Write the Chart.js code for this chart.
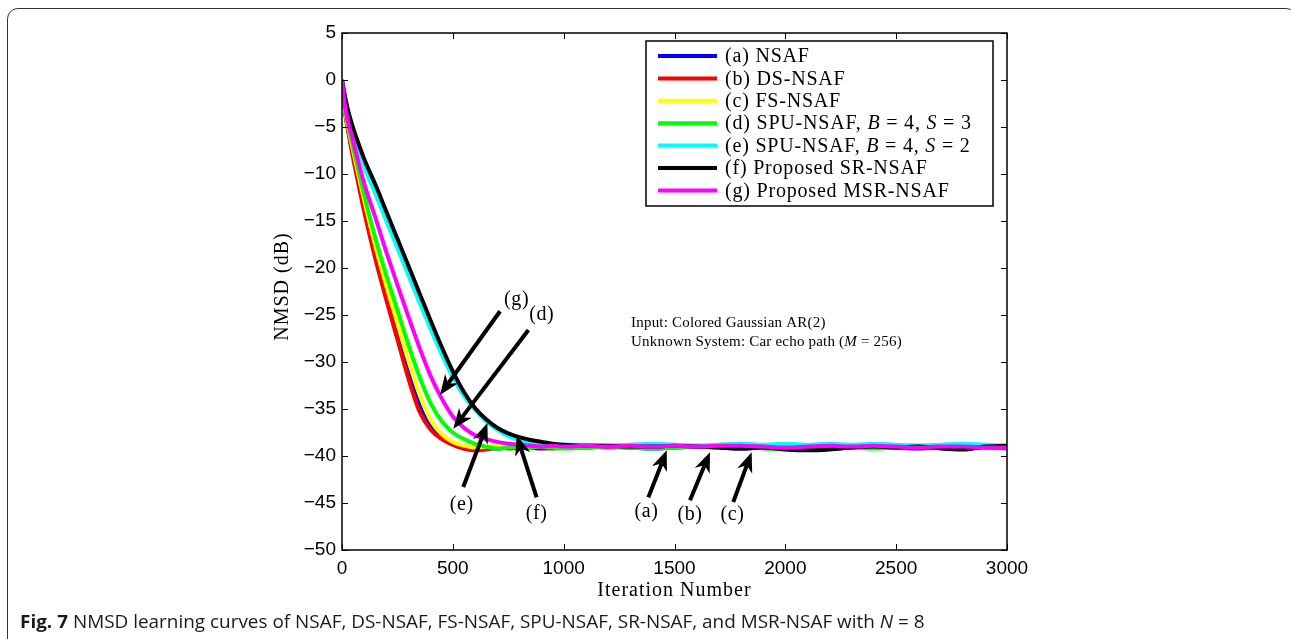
<!DOCTYPE html>
<html>
<head>
<meta charset="utf-8">
<script src="https://cdn.jsdelivr.net/npm/chart.js@4.4.1/dist/chart.umd.min.js"></script>
<style>
  html, body { margin: 0; padding: 0; background: #fff; width: 1291px; height: 639px; overflow: hidden; }
  #frame { position: absolute; left: 7px; top: 8px; width: 1290px; height: 700px; border: 1.5px solid #333; border-radius: 11px; box-sizing: border-box; }
  #wrap { position: absolute; left: 0; top: 0; width: 1291px; height: 639px; }
  #caption { position: absolute; left: 20px; top: 609px; font-family: "Open Sans", sans-serif; font-size: 18px; white-space: nowrap; transform-origin: left center; color: #1a1a1a; }
</style>
</head>
<body>
<div id="frame"></div>
<div id="wrap"><canvas id="chart" width="1291" height="639"></canvas></div>
<div id="caption"><b>Fig. 7</b> NMSD learning curves of NSAF, DS-NSAF, FS-NSAF, SPU-NSAF, SR-NSAF, and MSR-NSAF with <i>N</i> = 8</div>
<script>
// iteration index of each sample
const iterations = [0, 10, 25, 50, 75, 100, 150, 200, 250, 300, 350, 400, 450, 500, 550, 600, 650, 700, 750, 800, 850, 900, 950, 1000,
  1100, 1200, 1300, 1400, 1500, 1600, 1700, 1800, 1900, 2000, 2100, 2200, 2300, 2400, 2500, 2600, 2700, 2800, 2900, 3000];

// NMSD (dB)
const nsaf = [0, -2.6, -4.9, -7.9, -10.7, -13.4, -18.4, -22.7, -26.8, -31.0, -34.6, -36.9, -38.1, -38.8, -39.2, -39.3, -39.2, -39.2, -39.1, -39.0, -39.1, -39.2, -39.1, -39.0,
  -39.1, -39.0, -39.1, -39.2, -39.1, -39.0, -39.1, -39.2, -39.1, -39.0, -39.1, -39.2, -39.1, -39.0, -39.1, -39.2, -39.1, -39.2, -39.1, -39.2];
const dsNsaf = [0, -2.8, -5.1, -8.3, -11.2, -14.0, -19.0, -23.4, -27.6, -31.8, -35.3, -37.2, -38.2, -38.8, -39.2, -39.4, -39.3, -39.1, -39.2, -39.1, -39.0, -39.1, -39.2, -39.1,
  -39.0, -39.1, -39.0, -38.9, -39.0, -38.9, -39.0, -39.1, -38.9, -39.0, -39.1, -39.0, -38.9, -39.0, -39.1, -39.0, -38.9, -39.0, -39.1, -39.0];
const fsNsaf = [0, -2.5, -4.7, -7.5, -10.2, -12.8, -17.6, -21.9, -25.9, -29.9, -33.5, -36.2, -37.7, -38.5, -38.9, -39.1, -39.0, -38.9, -39.0, -38.9, -38.8, -38.9, -39.0, -38.9,
  -38.8, -38.9, -38.8, -38.9, -39.0, -38.9, -38.8, -38.7, -38.9, -38.8, -38.9, -38.8, -38.9, -39.0, -38.9, -38.8, -38.9, -38.8, -38.9, -39.0];
const spuS3 = [0, -2.4, -4.5, -7.1, -9.7, -12.2, -16.8, -20.8, -24.5, -28.2, -31.6, -34.4, -36.3, -37.5, -38.2, -38.7, -39.0, -39.2, -39.1, -39.0, -39.1, -39.0, -39.1, -39.2,
  -39.1, -39.0, -39.1, -39.2, -39.1, -39.0, -39.1, -39.0, -39.2, -39.3, -39.1, -39.0, -39.1, -39.2, -39.1, -39.0, -39.1, -39.0, -39.1, -39.1];
const spuS2 = [0, -1.5, -3.2, -5.3, -7.3, -9.2, -12.1, -15.0, -17.9, -20.8, -23.7, -26.5, -29.2, -31.6, -33.6, -35.1, -36.3, -37.2, -37.9, -38.3, -38.6, -38.8, -38.9, -38.8,
  -38.8, -38.9, -38.8, -38.7, -38.8, -38.9, -38.8, -38.7, -38.8, -38.7, -38.8, -38.7, -38.8, -38.7, -38.8, -38.9, -38.8, -38.7, -38.8, -38.9];
const srNsaf = [0, -1.3, -3.0, -5.1, -6.8, -8.4, -11.1, -14.0, -16.9, -19.8, -22.7, -25.6, -28.4, -31.0, -33.2, -34.9, -36.1, -37.0, -37.6, -38.0, -38.3, -38.5, -38.7, -38.8,
  -38.9, -38.9, -39.0, -39.0, -38.9, -39.0, -39.1, -39.2, -39.1, -39.3, -39.4, -39.3, -39.1, -39.0, -39.1, -39.0, -39.2, -39.3, -39.0, -38.9];
const msrNsaf = [0, -2.2, -4.2, -6.5, -8.8, -11.0, -14.6, -18.3, -21.8, -25.2, -28.5, -31.5, -33.9, -35.8, -37.0, -37.8, -38.2, -38.5, -38.7, -38.8, -38.9, -39.0, -38.9, -39.0,
  -38.9, -39.0, -38.9, -39.0, -38.9, -39.0, -38.9, -38.9, -39.0, -39.1, -39.0, -38.9, -39.0, -38.9, -39.0, -39.1, -39.0, -39.0, -39.1, -39.1];

const seriesNames = ["(a) NSAF", "(b) DS-NSAF", "(c) FS-NSAF", "(d) SPU-NSAF, B = 4, S = 3",
  "(e) SPU-NSAF, B = 4, S = 2", "(f) Proposed SR-NSAF", "(g) Proposed MSR-NSAF"];
const seriesValues = [nsaf, dsNsaf, fsNsaf, spuS3, spuS2, srNsaf, msrNsaf];
const colors = ["#0000ff", "#ff0000", "#ffff00", "#00ff00", "#00ffff", "#000000", "#ff00ff"];

const xTicks = [0, 500, 1000, 1500, 2000, 2500, 3000];
const yTicks = [5, 0, -5, -10, -15, -20, -25, -30, -35, -40, -45, -50];

// arrow annotations, in (iteration, dB)
const arrowNotes = [
  { tag: "(g)", from: [713, -24.6], to: [442, -33.5], at: [788, -23.4] },
  { tag: "(d)", from: [841, -26.6], to: [502, -37.1], at: [901, -25.0] },
  { tag: "(e)", from: [547, -43.3], to: [656, -36.5], at: [540, -45.2] },
  { tag: "(f)", from: [878, -44.4], to: [788, -37.8], at: [878, -46.1] },
  { tag: "(a)", from: [1382, -44.4], to: [1465, -39.4], at: [1374, -45.9] },
  { tag: "(b)", from: [1570, -44.7], to: [1660, -39.6], at: [1570, -46.3] },
  { tag: "(c)", from: [1765, -44.9], to: [1848, -39.6], at: [1762, -46.3] }
];
const noteLines = ["Input: Colored Gaussian AR(2)", "Unknown System: Car echo path (M = 256)"];

const SERIF = '"Liberation Serif", serif';

// draw text, putting a lone capital before " =" in italics (like the LaTeX labels)
function mathText(ctx, str, x, y, size, align, spacing) {
  const parts = str.split(/\b([A-Z])(?= =)/);
  const fontOf = i => (i % 2 ? "italic " : "") + size + "px " + SERIF;
  ctx.letterSpacing = (spacing || 0) + "px";
  let w = 0;
  parts.forEach((p, i) => { ctx.font = fontOf(i); w += ctx.measureText(p).width; });
  let cx = align === "center" ? x - w / 2 : x;
  ctx.textAlign = "left";
  parts.forEach((p, i) => {
    ctx.font = fontOf(i);
    ctx.fillText(p, cx, y);
    cx += ctx.measureText(p).width;
  });
  ctx.letterSpacing = "0px";
}

function drawArrow(ctx, x0, y0, x1, y1) {
  const ang = Math.atan2(y1 - y0, x1 - x0);
  const len = 20, half = 8, notch = 14;
  const bx = x1 - Math.cos(ang) * notch, by = y1 - Math.sin(ang) * notch;
  ctx.lineWidth = 4;
  ctx.beginPath();
  ctx.moveTo(x0, y0);
  ctx.lineTo(bx, by);
  ctx.stroke();
  const px = -Math.sin(ang), py = Math.cos(ang);
  const hx = x1 - Math.cos(ang) * len, hy = y1 - Math.sin(ang) * len;
  ctx.beginPath();
  ctx.moveTo(x1, y1);
  ctx.lineTo(hx + px * half, hy + py * half);
  ctx.lineTo(bx, by);
  ctx.lineTo(hx - px * half, hy - py * half);
  ctx.closePath();
  ctx.fill();
}

const figurePlugin = {
  id: "figure",
  afterDraw(chart) {
    const { ctx, chartArea: a, scales: { x, y } } = chart;
    ctx.save();
    ctx.strokeStyle = "#000";
    ctx.fillStyle = "#000";

    // axes box + inward ticks
    ctx.lineWidth = 1.5;
    ctx.strokeRect(a.left, a.top, a.right - a.left, a.bottom - a.top);
    ctx.beginPath();
    yTicks.forEach(v => {
      const py = Math.round(y.getPixelForValue(v)) + 0.5;
      ctx.moveTo(a.left, py); ctx.lineTo(a.left + 6, py);
      ctx.moveTo(a.right, py); ctx.lineTo(a.right - 6, py);
    });
    xTicks.forEach(v => {
      const px = Math.round(x.getPixelForValue(v)) + 0.5;
      ctx.moveTo(px, a.bottom); ctx.lineTo(px, a.bottom - 6);
      ctx.moveTo(px, a.top); ctx.lineTo(px, a.top + 6);
    });
    ctx.lineWidth = 1;
    ctx.stroke();

    // arrows and their tags
    ctx.lineCap = "butt";
    arrowNotes.forEach(n => {
      drawArrow(ctx, x.getPixelForValue(n.from[0]), y.getPixelForValue(n.from[1]),
        x.getPixelForValue(n.to[0]), y.getPixelForValue(n.to[1]));
      ctx.textBaseline = "middle";
      mathText(ctx, n.tag, x.getPixelForValue(n.at[0]), y.getPixelForValue(n.at[1]), 20, "center", 0.6);
    });

    // text notes
    ctx.textBaseline = "middle";
    noteLines.forEach((t, i) => {
      mathText(ctx, t, x.getPixelForValue(1304), y.getPixelForValue(-25.85 - 2.05 * i), 15, "left", 0.2);
    });

    // legend box
    const lw = 347, lh = 165;
    const lx = a.right - 14 - lw, ly = a.top + 8;
    ctx.fillStyle = "#fff";
    ctx.fillRect(lx, ly, lw, lh);
    ctx.lineWidth = 1.5;
    ctx.strokeRect(lx, ly, lw, lh);
    chart.data.datasets.forEach((ds, i) => {
      const ry = ly + 15 + i * 22.4;
      ctx.strokeStyle = ds.borderColor;
      ctx.lineWidth = 4;
      ctx.beginPath();
      ctx.moveTo(lx + 12, ry); ctx.lineTo(lx + 71, ry);
      ctx.stroke();
      ctx.fillStyle = "#000";
      ctx.textBaseline = "middle";
      mathText(ctx, ds.label, lx + 79, ry + 1, 20, "left", 0.8);
    });

    // axis titles
    ctx.fillStyle = "#000";
    ctx.textBaseline = "middle";
    mathText(ctx, "Iteration Number", (a.left + a.right) / 2, a.bottom + 41, 20, "center", 1);
    ctx.translate(a.left - 59, (a.top + a.bottom) / 2 - 5);
    ctx.rotate(-Math.PI / 2);
    mathText(ctx, "NMSD (dB)", 0, 0, 20, "center", 1);
    ctx.restore();
  }
};

const datasets = seriesNames.map((name, i) => ({
  label: name,
  data: iterations.map((it, k) => ({ x: it, y: seriesValues[i][k] })),
  borderColor: colors[i],
  backgroundColor: colors[i],
  borderWidth: 4,
  pointRadius: 0,
  cubicInterpolationMode: "monotone",
  order: seriesNames.length - i
}));

const minus = v => (v < 0 ? "\u2212" + Math.abs(v) : String(v));

new Chart(document.getElementById("chart"), {
  type: "line",
  data: { datasets: datasets },
  options: {
    responsive: false,
    animation: false,
    layout: { padding: { left: 0, right: 284, top: 33, bottom: 39 } },
    plugins: { legend: { display: false }, tooltip: { enabled: false } },
    scales: {
      x: {
        type: "linear",
        min: 0, max: 3000,
        grid: { display: false, drawTicks: false },
        border: { display: false },
        afterFit: s => { s.height = 50; },
        afterBuildTicks: s => { s.ticks = xTicks.map(v => ({ value: v })); },
        ticks: { color: "#000", padding: 7, maxRotation: 0, font: { family: '"Liberation Sans"', size: 19 }, callback: v => minus(v) }
      },
      y: {
        min: -50, max: 5,
        grid: { display: false, drawTicks: false },
        border: { display: false },
        afterFit: s => { s.width = 342; },
        afterBuildTicks: s => { s.ticks = yTicks.map(v => ({ value: v })); },
        ticks: { color: "#000", padding: 6, font: { family: '"Liberation Sans"', size: 19 }, callback: v => minus(v) }
      }
    }
  },
  plugins: [figurePlugin]
});

// fit caption to the width it has in the figure
const cap = document.getElementById("caption");
cap.style.transform = "scaleX(" + (905 / cap.offsetWidth) + ")";
</script>
</body>
</html>
